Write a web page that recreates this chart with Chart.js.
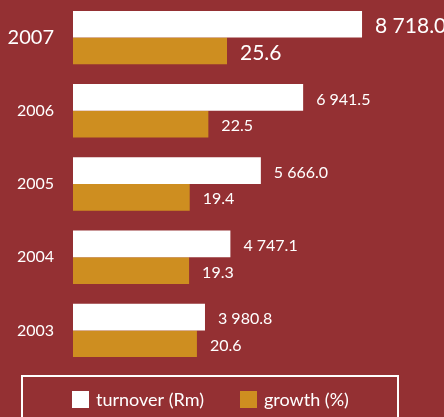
<!DOCTYPE html>
<html>
<head>
<meta charset="utf-8">
<script src="https://cdn.jsdelivr.net/npm/chart.js@4/dist/chart.umd.min.js"></script>
<style>
  html, body { margin: 0; padding: 0; background: #943033; }
  #wrap { position: relative; width: 444px; height: 417px; }
</style>
</head>
<body>
<div id="wrap"><canvas id="turnoverChart"></canvas></div>
<script>
// Turnover and growth per year
const years = ['2007', '2006', '2005', '2004', '2003'];
const turnover = [8718.0, 6941.5, 5666.0, 4747.1, 3980.8];
const growth = [25.6, 22.5, 19.4, 19.3, 20.6];
const seriesNames = ['turnover (Rm)', 'growth (%)'];

const BG = '#943033';
const GOLD = '#ce8e20';
const FONT = 'Lato, "Open Sans", sans-serif';

// 8718 -> "8 718.0"
function fmt(v) {
  const parts = v.toFixed(1).split('.');
  return parts[0].replace(/\B(?=(\d{3})+(?!\d))/g, ' ') + '.' + parts[1];
}

// value text to the right of each bar
const barValues = {
  id: 'barValues',
  afterDatasetsDraw(chart) {
    const ctx = chart.ctx;
    ctx.save();
    ctx.fillStyle = '#fff';
    ctx.textBaseline = 'middle';
    ctx.textAlign = 'left';
    chart.data.datasets.forEach((ds, di) => {
      chart.getDatasetMeta(di).data.forEach((bar, i) => {
        ctx.font = (i === 0 ? 21 : 16) + 'px ' + FONT;
        ctx.fillText(fmt(ds.data[i]), bar.x + 13, bar.y + 2);
      });
    });
    ctx.restore();
  }
};

// boxed legend along the bottom
const boxLegend = {
  id: 'boxLegend',
  afterDraw(chart) {
    const ctx = chart.ctx;
    ctx.save();
    ctx.strokeStyle = '#fff';
    ctx.lineWidth = 2;
    ctx.strokeRect(22, 376, 376, 60);
    ctx.font = '18px ' + FONT;
    ctx.textBaseline = 'middle';
    const xs = [72, 240];
    chart.data.datasets.forEach((ds, di) => {
      ctx.fillStyle = ds.backgroundColor;
      ctx.fillRect(xs[di], 391, 17, 17);
      ctx.fillStyle = '#fff';
      ctx.fillText(ds.label, xs[di] + 24, 400);
    });
    ctx.restore();
  }
};

new Chart(document.getElementById('turnoverChart'), {
  type: 'bar',
  data: {
    labels: years,
    datasets: [
      { label: seriesNames[0], data: turnover, backgroundColor: '#ffffff', xAxisID: 'x' },
      { label: seriesNames[1], data: growth, backgroundColor: GOLD, xAxisID: 'x2' }
    ]
  },
  options: {
    indexAxis: 'y',
    responsive: true,
    maintainAspectRatio: false,
    animation: false,
    datasets: { bar: { barPercentage: 1, categoryPercentage: 0.729 } },
    layout: { padding: { top: 1, bottom: 50, left: 0, right: 0 } },
    plugins: {
      legend: { display: false },
      tooltip: { enabled: false }
    },
    scales: {
      x: { display: false, min: 0, max: 11190 },
      x2: { display: false, min: 0, max: 61.67 },
      y: {
        grid: { display: false, drawTicks: false },
        border: { display: false },
        afterFit(scale) {
          scale.width = 73;
          scale.paddingTop = 0;
          scale.paddingBottom = 0;
        },
        ticks: {
          color: '#fff',
          padding: 19,
          font: (c) => ({ family: FONT, size: c.index === 0 ? 20 : 16 })
        }
      }
    }
  },
  plugins: [barValues, boxLegend,
    { id: 'bg', beforeDraw(chart) {
        const ctx = chart.ctx;
        ctx.save();
        ctx.fillStyle = BG;
        ctx.fillRect(0, 0, chart.width, chart.height);
        ctx.restore();
    } }]
});
</script>
</body>
</html>
